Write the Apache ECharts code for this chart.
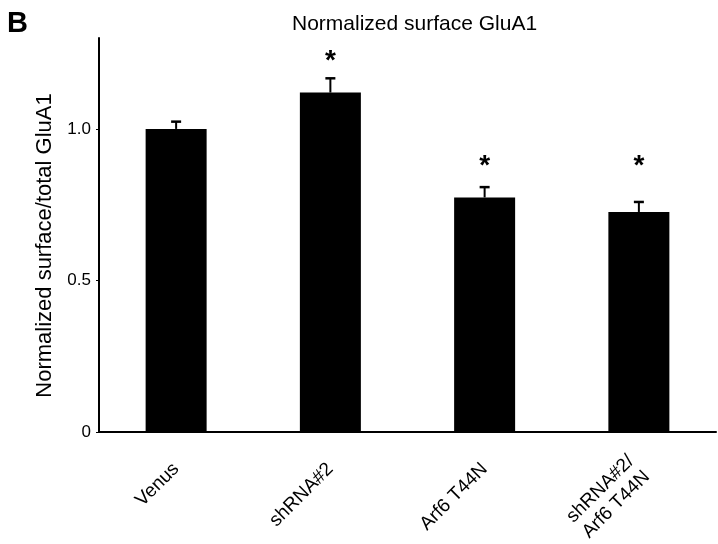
<!DOCTYPE html>
<html>
<head>
<meta charset="utf-8">
<script src="https://cdn.jsdelivr.net/npm/echarts@6/dist/echarts.min.js"></script>
<style>
  html, body { margin: 0; padding: 0; background: #fff; }
  #main { width: 718px; height: 544px; }
</style>
</head>
<body>
<div id="main"></div>
<script>
// groups on the x axis
var categories = ['Venus', 'shRNA#2', 'Arf6 T44N', 'shRNA#2/\nArf6 T44N'];
// normalized surface/total GluA1 (mean) and error (SEM)
var means = [1.0, 1.12, 0.774, 0.726];
var sems = [0.024, 0.047, 0.034, 0.033];
// height of the significance star (value units), null = none
var starLevels = [null, 1.236, 0.889, 0.889];
var yTicks = [0, 0.5, 1];

var FONT = '"Liberation Sans", Arial, Helvetica, sans-serif';

var myChart = echarts.init(document.getElementById('main'));

var errData = [];
for (var i = 0; i < categories.length; i++) {
    errData.push([i, means[i], sems[i], starLevels[i] == null ? 0 : starLevels[i]]);
}

var option = {
    backgroundColor: '#fff',
    animation: false,
    title: [
        {
            text: 'B',
            left: 2,
            top: 4,
            textStyle: { fontFamily: FONT, fontWeight: 'bold', fontSize: 29, color: '#000' }
        },
        {
            text: 'Normalized surface GluA1',
            left: 287,
            top: 9,
            textStyle: { fontFamily: FONT, fontWeight: 'normal', fontSize: 21, color: '#000' }
        }
    ],
    grid: { left: 99, right: 2, top: 38, bottom: 112, outerBoundsMode: 'none' },
    xAxis: {
        type: 'category',
        data: categories,
        axisLine: { lineStyle: { color: '#000', width: 2 } },
        axisTick: { show: false },
        axisLabel: {
            rotate: 45,
            margin: 34,
            interval: 0,
            color: '#000',
            fontFamily: FONT,
            fontSize: 19,
            lineHeight: 22
        }
    },
    yAxis: {
        type: 'value',
        min: 0,
        max: 1.3,
        interval: 0.5,
        name: 'Normalized surface/total GluA1',
        nameLocation: 'middle',
        nameGap: 43,
        nameTextStyle: { fontFamily: FONT, fontSize: 22, color: '#000', padding: [0, 21, 0, 0] },
        splitLine: { show: false },
        axisLine: { show: true, lineStyle: { color: '#000', width: 2 } },
        axisTick: { show: true, length: 3, customValues: yTicks, lineStyle: { color: '#000', width: 1 } },
        axisLabel: {
            customValues: yTicks,
            margin: 8,
            color: '#000',
            fontFamily: FONT,
            fontSize: 17,
            formatter: function (v) { return v === 0 ? '0' : v.toFixed(1); }
        }
    },
    series: [
        {
            type: 'bar',
            data: means,
            barWidth: 61,
            itemStyle: { color: '#000' }
        },
        {
            type: 'custom',
            data: errData,
            z: 5,
            renderItem: function (params, api) {
                var x = api.value(0);
                var m = api.value(1);
                var e = api.value(2);
                var s = api.value(3);
                var base = api.coord([x, m]);
                var top = api.coord([x, m + e]);
                var children = [
                    { type: 'line', shape: { x1: top[0], y1: base[1], x2: top[0], y2: top[1] },
                      style: { stroke: '#000', lineWidth: 2 } },
                    { type: 'line', shape: { x1: top[0] - 5, y1: top[1], x2: top[0] + 5, y2: top[1] },
                      style: { stroke: '#000', lineWidth: 2.5 } }
                ];
                if (s > 0) {
                    var p = api.coord([x, s]);
                    children.push({
                        type: 'text',
                        style: { text: '*', x: p[0], y: p[1] + 4, align: 'center', verticalAlign: 'middle',
                                 font: 'bold 28px ' + FONT, fill: '#000' }
                    });
                }
                return { type: 'group', children: children };
            }
        }
    ]
};

myChart.setOption(option);
window.addEventListener('resize', function () {
    myChart.resize();
});
</script>
</body>
</html>
